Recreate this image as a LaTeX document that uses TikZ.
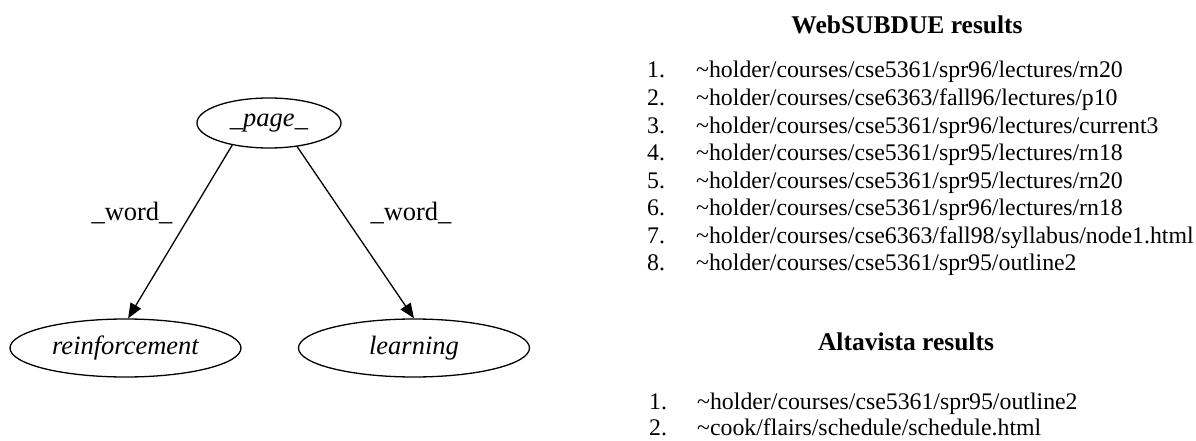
\documentclass[tikz,border=0pt]{standalone}
\usepackage{fontspec}
\setmainfont{Liberation Serif}
\usetikzlibrary{shapes.geometric,arrows.meta}
\begin{document}
\begin{tikzpicture}[x=1pt,y=-1pt,
  gnode/.style={draw,ellipse,line width=1.3pt,inner sep=0pt,font=\fontsize{26.5}{30}\selectfont\itshape},
  elabel/.style={inner sep=0pt,font=\fontsize{26.5}{30}\selectfont},
  edge/.style={line width=1.3pt,-{Triangle[length=15pt,width=12pt]}},
  head/.style={inner sep=0pt,font=\fontsize{25.5}{30}\selectfont\bfseries},
  num/.style={inner sep=0pt,anchor=base west,font=\fontsize{23.8}{28}\selectfont},
  item/.style={inner sep=0pt,anchor=base west,font=\fontsize{23.8}{28}\selectfont}]
\useasboundingbox (0,0) rectangle (1196,441);
% graph
\node[gnode,minimum width=144pt,minimum height=50pt] (page) at (269,123) {\_page\_};
\node[gnode,minimum width=231pt,minimum height=58pt] (reinf) at (125.5,348) {reinforcement};
\node[gnode,minimum width=231pt,minimum height=58pt] (learn) at (414,348) {learning};
\draw[edge] (page.211.9) -- (reinf.85);
\draw[edge] (page.320.4) -- (learn.90);
\node[elabel] (w1) at (132,213) {\_word\_};
\node[elabel] (w2) at (411,213) {\_word\_};
% WebSUBDUE results
\node[head] (h1) at (907,25) {WebSUBDUE results};
\foreach \i/\t in {1/{\textasciitilde holder/courses/cse5361/spr96/lectures/rn20},
                   2/{\textasciitilde holder/courses/cse6363/fall96/lectures/p10},
                   3/{\textasciitilde holder/courses/cse5361/spr96/lectures/current3},
                   4/{\textasciitilde holder/courses/cse5361/spr95/lectures/rn18},
                   5/{\textasciitilde holder/courses/cse5361/spr95/lectures/rn20},
                   6/{\textasciitilde holder/courses/cse5361/spr96/lectures/rn18},
                   7/{\textasciitilde holder/courses/cse6363/fall98/syllabus/node1.html},
                   8/{\textasciitilde holder/courses/cse5361/spr95/outline2}}{
  \node[num] (wn\i) at (647,{78+27.55*(\i-1)}) {\i.};
  \node[item] (wt\i) at (696,{78+27.55*(\i-1)}) {\t};
}
% Altavista results
\node[head] (h2) at (906,342) {Altavista results};
\node[num] (an1) at (649,409.5) {1.};
\node[item] (at1) at (697,409.5) {\textasciitilde holder/courses/cse5361/spr95/outline2};
\node[num] (an2) at (649,435) {2.};
\node[item] (at2) at (697,435) {\textasciitilde cook/flairs/schedule/schedule.html};
\end{tikzpicture}
\end{document}
